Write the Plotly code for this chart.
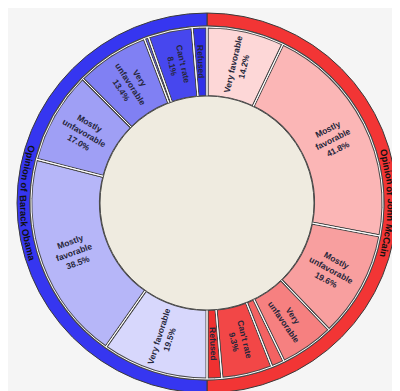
import math
import plotly.graph_objects as go

# ---- data ----
categories = ["Very favorable", "Mostly favorable", "Mostly unfavorable",
              "Very unfavorable", "Never heard of", "Can't rate", "Refused"]
mccain_values = [14.2, 41.8, 19.6, 10.0, 2.4, 9.3, 2.7]
obama_values = [19.5, 38.5, 17.0, 13.4, 0.8, 8.1, 2.7]
candidates = ["Opinion of John McCain", "Opinion of Barack Obama"]

mccain_colors = ["#fdd7d7", "#fbb6b6", "#f89f9f", "#f68080", "#f46262", "#f24747", "#f03131"]
obama_colors = ["#d7d7fc", "#b6b6f8", "#9f9ff5", "#8080f3", "#6262f0", "#4747ee", "#3131e8"]
ring_colors = ["#f23535", "#3636f0"]

# how each category label is broken into lines, and whether % is shown
label_lines = {
    "Very favorable": "Very favorable",
    "Mostly favorable": "Mostly<br>favorable",
    "Mostly unfavorable": "Mostly<br>unfavorable",
    "Very unfavorable": "Very<br>unfavorable",
    "Never heard of": "",
    "Can't rate": "Can't rate",
    "Refused": "Refused",
}
mccain_show_pct = [True, True, True, False, False, True, False]
obama_show_pct = [True, True, True, True, False, True, False]


def make_text(vals, show):
    out = []
    for c, v, s in zip(categories, vals, show):
        t = label_lines[c]
        if t and s:
            t += "<br>%.1f%%" % v
        out.append(t)
    return out


inner_values = mccain_values + obama_values
inner_labels = ["McCain: " + c for c in categories] + ["Obama: " + c for c in categories]
inner_text = make_text(mccain_values, mccain_show_pct) + make_text(obama_values, obama_show_pct)
inner_colors = mccain_colors + obama_colors
ring_values = [sum(mccain_values), sum(obama_values)]

# ---- geometry (pixels) ----
W, H = 400, 391
CX, CY = 199.0, 195.0
R_OUT, R_RING_IN, R_INNER_OUT, R_HOLE = 190.0, 177.0, 176.0, 106.5
R_TEXT = (R_OUT + R_RING_IN) / 2
R_LABEL = (R_INNER_OUT + R_HOLE) / 2


def dom(r):
    return dict(x=[(CX - r) / W, (CX + r) / W],
                y=[(H - CY - r) / H, (H - CY + r) / H])


font_family = "Liberation Sans, Arial, sans-serif"

fig = go.Figure()

# outer thin ring (candidates)
fig.add_trace(go.Pie(
    values=ring_values, labels=candidates, domain=dom(R_OUT),
    hole=R_RING_IN / R_OUT, sort=False, direction="clockwise", rotation=0,
    marker=dict(colors=ring_colors, line=dict(color="#3a3a3a", width=1)),
    textinfo="none", showlegend=False,
))

# inner ring (categories): dark thick border ...
fig.add_trace(go.Pie(
    values=inner_values, labels=inner_labels, domain=dom(R_INNER_OUT),
    hole=R_HOLE / R_INNER_OUT, sort=False, direction="clockwise", rotation=0,
    marker=dict(colors=inner_colors, line=dict(color="#4a4a4a", width=3)),
    textinfo="none",
    hovertemplate="%{label}: %{value}%<extra></extra>",
    showlegend=False,
))
# ... with a thin white line on top -> double-line separators
fig.add_trace(go.Pie(
    values=inner_values, labels=inner_labels, domain=dom(R_INNER_OUT),
    hole=R_HOLE / R_INNER_OUT, sort=False, direction="clockwise", rotation=0,
    marker=dict(colors=["rgba(0,0,0,0)"] * len(inner_values),
                line=dict(color="#ffffff", width=1)),
    textinfo="none", hoverinfo="skip", showlegend=False,
))

# beige center disk
fig.add_trace(go.Pie(
    values=[1], labels=["center"], domain=dom(R_HOLE + 0.5),
    marker=dict(colors=["#efebe0"], line=dict(color="#4a4a4a", width=1)),
    textinfo="none", hoverinfo="skip", sort=False, showlegend=False,
))

annotations = []

# ---- inner slice labels: at the slice's mid angle, radial orientation ----
INNER_FS = 8.5
tot_inner = sum(inner_values)
cum = 0.0
for v, t in zip(inner_values, inner_text):
    th = (cum + v / 2) / tot_inner * 360.0
    cum += v
    if not t:
        continue
    rad = math.radians(th)
    px = CX + R_LABEL * math.sin(rad)
    py = CY - R_LABEL * math.cos(rad)
    rot = th - 90 if 0 < th <= 180 else th - 270
    annotations.append(dict(
        x=px / W, y=1 - py / H, xref="paper", yref="paper",
        text="<b>%s</b>" % t, showarrow=False, textangle=rot,
        xanchor="center", yanchor="middle", align="center",
        font=dict(family=font_family, size=INNER_FS, color="#26263a"),
    ))

# ---- curved ring labels: one annotation per word along the arc ----
BOLD_W = {  # Arial bold advance widths (em)
    " ": .278, "O": .778, "p": .611, "i": .278, "n": .611, "o": .611, "f": .333,
    "J": .556, "h": .611, "M": .833, "c": .556, "C": .722, "a": .556,
    "B": .722, "r": .389, "k": .556, "b": .611, "m": .889,
}
RING_FS = 9.5


def text_w(s):
    return sum(BOLD_W.get(ch, .6) for ch in s) * RING_FS


total = sum(ring_values)
start = 0.0
for name, val in zip(candidates, ring_values):
    mid = (start + val / 2) / total * 360.0
    start += val
    words = name.split(" ")
    full = text_w(name)
    clockwise_read = mid < 180
    off = 0.0
    for w in words:
        ww = text_w(w)
        s = (off + ww / 2 - full / 2) / R_TEXT * 180 / math.pi
        th = mid + s if clockwise_read else mid - s
        rad = math.radians(th)
        px = CX + R_TEXT * math.sin(rad)
        py = CY - R_TEXT * math.cos(rad)
        ang = th if clockwise_read else th - 180
        annotations.append(dict(
            x=px / W, y=1 - py / H, xref="paper", yref="paper",
            text="<b>%s</b>" % w, showarrow=False, textangle=ang,
            xanchor="center", yanchor="middle",
            font=dict(family=font_family, size=RING_FS, color="#111111"),
        ))
        off += ww + text_w(" ")

fig.update_layout(
    width=W, height=H, autosize=False,
    margin=dict(l=0, r=0, t=0, b=0),
    paper_bgcolor="#f5f5f5", plot_bgcolor="#f5f5f5",
    showlegend=False, annotations=annotations,
)

fig.write_html("out.html")
